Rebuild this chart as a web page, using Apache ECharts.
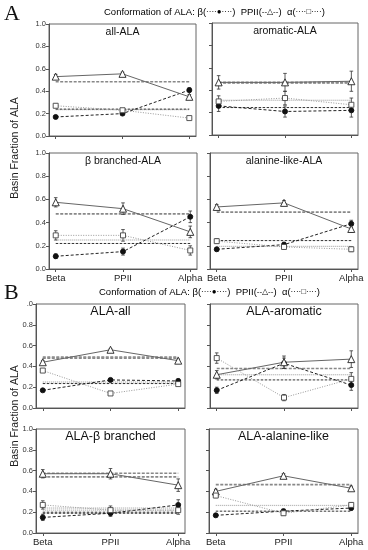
<!DOCTYPE html>
<html><head><meta charset="utf-8">
<script src="https://cdn.jsdelivr.net/npm/echarts@6/dist/echarts.min.js"></script>
<style>html,body{margin:0;padding:0;background:#fff}#c{width:368px;height:550px}</style>
</head><body><div id="c"></div>
<script>
// ---------- data ----------
const categories = ['Beta', 'PPII', 'Alpha'];
const yTickValues = [0, 0.2, 0.4, 0.6, 0.8, 1.0];
const panelTitles = ['all-ALA', 'aromatic-ALA', 'β branched-ALA', 'alanine-like-ALA',
                     'ALA-all', 'ALA-aromatic', 'ALA-β branched', 'ALA-alanine-like'];

// A: all-ALA
const A_all_beta = [0.17, 0.20, 0.41],  A_all_betaErr = [0.01, 0.01, 0.02];
const A_all_ppii = [0.53, 0.555, 0.35], A_all_ppiiErr = [0.02, 0.015, 0.02];
const A_all_alpha = [0.27, 0.23, 0.16], A_all_alphaErr = [0.015, 0.01, 0.01];
const A_all_ref = { beta: [0.24], ppii: [0.485], alpha: [0.235] };
// A: aromatic-ALA
const A_aro_beta = [0.26, 0.21, 0.22],  A_aro_betaErr = [0.05, 0.05, 0.06];
const A_aro_ppii = [0.47, 0.47, 0.48],  A_aro_ppiiErr = [0.06, 0.08, 0.09];
const A_aro_alpha = [0.30, 0.33, 0.27], A_aro_alphaErr = [0.05, 0.06, 0.06];
const A_aro_ref = { beta: [0.245], ppii: [0.465, 0.47], alpha: [0.31] };
// A: beta branched-ALA
const A_bb_beta = [0.11, 0.15, 0.45],   A_bb_betaErr = [0.02, 0.03, 0.05];
const A_bb_ppii = [0.575, 0.52, 0.32],  A_bb_ppiiErr = [0.04, 0.05, 0.05];
const A_bb_alpha = [0.29, 0.29, 0.16],  A_bb_alphaErr = [0.04, 0.05, 0.04];
const A_bb_ref = { beta: [0.22], ppii: [0.475], alpha: [0.25] };
// A: alanine-like-ALA
const A_al_beta = [0.17, 0.21, 0.39],   A_al_betaErr = [0.015, 0.02, 0.03];
const A_al_ppii = [0.535, 0.57, 0.345], A_al_ppiiErr = [0.02, 0.02, 0.03];
const A_al_alpha = [0.24, 0.19, 0.17],  A_al_alphaErr = [0.02, 0.02, 0.02];
const A_al_ref = { beta: [0.245], ppii: [0.49], alpha: [0.195] };
// B: ALA-all
const B_all_beta = [0.17, 0.27, 0.26],  B_all_betaErr = [0.01, 0.01, 0.02];
const B_all_ppii = [0.44, 0.56, 0.455], B_all_ppiiErr = [0.015, 0.01, 0.015];
const B_all_alpha = [0.36, 0.14, 0.23], B_all_alphaErr = [0.015, 0.01, 0.01];
const B_all_ref = { beta: [0.235], ppii: [0.48, 0.49], alpha: [0.25] };
// B: ALA-aromatic
const B_aro_beta = [0.17, 0.43, 0.22],  B_aro_betaErr = [0.03, 0.05, 0.05];
const B_aro_ppii = [0.32, 0.44, 0.47],  B_aro_ppiiErr = [0.04, 0.06, 0.08];
const B_aro_alpha = [0.48, 0.10, 0.28], B_aro_alphaErr = [0.05, 0.03, 0.06];
const B_aro_ref = { beta: [0.27], ppii: [0.38], alpha: [0.32] };
// B: ALA-beta branched
const B_bb_beta = [0.15, 0.19, 0.27],   B_bb_betaErr = [0.03, 0.03, 0.05];
const B_bb_ppii = [0.57, 0.57, 0.46],   B_bb_ppiiErr = [0.04, 0.05, 0.06];
const B_bb_alpha = [0.27, 0.22, 0.22],  B_bb_alphaErr = [0.04, 0.04, 0.04];
const B_bb_ref = { beta: [0.19, 0.20], ppii: [0.54, 0.575], alpha: [0.22, 0.24] };
// B: ALA-alanine-like
const B_al_beta = [0.17, 0.21, 0.24],   B_al_betaErr = [0.015, 0.02, 0.02];
const B_al_ppii = [0.40, 0.55, 0.43],   B_al_ppiiErr = [0.02, 0.02, 0.02];
const B_al_alpha = [0.36, 0.19, 0.27],  B_al_alphaErr = [0.02, 0.02, 0.02];
const B_al_ref = { beta: [0.21], ppii: [0.465], alpha: [0.265] };

const panels = [
  [A_all_beta, A_all_betaErr, A_all_ppii, A_all_ppiiErr, A_all_alpha, A_all_alphaErr, A_all_ref],
  [A_aro_beta, A_aro_betaErr, A_aro_ppii, A_aro_ppiiErr, A_aro_alpha, A_aro_alphaErr, A_aro_ref],
  [A_bb_beta, A_bb_betaErr, A_bb_ppii, A_bb_ppiiErr, A_bb_alpha, A_bb_alphaErr, A_bb_ref],
  [A_al_beta, A_al_betaErr, A_al_ppii, A_al_ppiiErr, A_al_alpha, A_al_alphaErr, A_al_ref],
  [B_all_beta, B_all_betaErr, B_all_ppii, B_all_ppiiErr, B_all_alpha, B_all_alphaErr, B_all_ref],
  [B_aro_beta, B_aro_betaErr, B_aro_ppii, B_aro_ppiiErr, B_aro_alpha, B_aro_alphaErr, B_aro_ref],
  [B_bb_beta, B_bb_betaErr, B_bb_ppii, B_bb_ppiiErr, B_bb_alpha, B_bb_alphaErr, B_bb_ref],
  [B_al_beta, B_al_betaErr, B_al_ppii, B_al_ppiiErr, B_al_alpha, B_al_alphaErr, B_al_ref]
];

// ---------- layout ----------
const grids = [
  { left: 49, top: 24, width: 147, height: 112 },
  { left: 212, top: 23, width: 146, height: 112 },
  { left: 49, top: 153, width: 148, height: 116 },
  { left: 210, top: 153, width: 148, height: 116 },
  { left: 36, top: 304, width: 149, height: 104 },
  { left: 210, top: 304, width: 148, height: 104 },
  { left: 36, top: 429, width: 149, height: 104 },
  { left: 209, top: 429, width: 149, height: 104 }
];
const FONT = 'Liberation Sans';
const styles = {
  beta:  { line: { color: '#222', width: 1, type: [3, 2] }, symbol: 'circle', size: 5, fill: '#111', border: '#111' },
  ppii:  { line: { color: '#666', width: 1, type: 'solid' }, symbol: 'triangle', size: 7, fill: '#fff', border: '#222' },
  alpha: { line: { color: '#999', width: 1, type: [1, 1.5] }, symbol: 'rect', size: 5, fill: '#fff', border: '#444' }
};
const refStyles = {
  beta:  { color: '#333', width: 1, type: [2.5, 1.5] },
  ppii:  { color: '#888', width: 1.6, type: [3, 1.5] },
  alpha: { color: '#aaa', width: 1.2, type: [1, 1] }
};

const xAxes = [], yAxes = [], series = [], graphics = [];
grids.forEach((g, i) => {
  const bottomRow = (i === 2 || i === 3 || i === 6 || i === 7);
  const leftCol = (i % 2 === 0);
  xAxes.push({
    type: 'value', gridIndex: i, min: -0.1, max: 2.1,
    splitLine: { show: false },
    axisLine: { show: true, onZero: false, lineStyle: { color: '#555', width: 1 } },
    axisTick: { show: true, customValues: [0, 1, 2], length: 3, inside: false, lineStyle: { color: '#555' } },
    axisLabel: { show: bottomRow, customValues: [0, 1, 2], formatter: v => categories[Math.round(v)],
                 fontFamily: FONT, fontSize: 9.5, color: '#222', margin: 4 }
  });
  yAxes.push({
    type: 'value', gridIndex: i, min: 0, max: 1, interval: 0.2,
    splitLine: { show: false },
    axisLine: { show: true, onZero: false, lineStyle: { color: '#555', width: 1 } },
    axisTick: { show: true, length: 3, lineStyle: { color: '#555' } },
    axisLabel: { show: leftCol, fontFamily: FONT, fontSize: 7.5, color: '#333', margin: 3,
                 formatter: v => (i === 4 && v === 1) ? '.0' : v.toFixed(1) }
  });
  const p = panels[i];
  const kinds = [['beta', p[0], p[1]], ['ppii', p[2], p[3]], ['alpha', p[4], p[5]]];
  // reference lines
  ['alpha', 'beta', 'ppii'].forEach(k => {
    p[6][k].forEach(v => {
      series.push({
        type: 'line', xAxisIndex: i, yAxisIndex: i, symbol: 'none', silent: true, z: 1,
        data: [[0, v], [2, v]], lineStyle: refStyles[k]
      });
    });
  });
  kinds.forEach(([k, vals, errs]) => {
    const s = styles[k];
    series.push({
      type: 'line', xAxisIndex: i, yAxisIndex: i, z: 3,
      data: vals.map((v, j) => [j, v]),
      lineStyle: s.line, symbol: s.symbol, symbolSize: s.size,
      itemStyle: { color: s.fill, borderColor: s.border, borderWidth: 0.9 }
    });
    series.push({
      type: 'custom', xAxisIndex: i, yAxisIndex: i, z: 2,
      data: vals.map((v, j) => [j, v - errs[j], v + errs[j]]),
      renderItem: (params, api) => {
        const x = api.value(0);
        const lo = api.coord([x, api.value(1)]);
        const hi = api.coord([x, api.value(2)]);
        const w = 1.8;
        return {
          type: 'group', children: [
            { type: 'line', shape: { x1: hi[0], y1: hi[1], x2: lo[0], y2: lo[1] }, style: { stroke: '#333', lineWidth: 0.8 } },
            { type: 'line', shape: { x1: hi[0] - w, y1: hi[1], x2: hi[0] + w, y2: hi[1] }, style: { stroke: '#333', lineWidth: 0.8 } },
            { type: 'line', shape: { x1: lo[0] - w, y1: lo[1], x2: lo[0] + w, y2: lo[1] }, style: { stroke: '#333', lineWidth: 0.8 } }
          ]
        };
      }
    });
  });
  graphics.push({
    type: 'text', x: g.left + g.width / 2, y: g.top + (i < 4 ? 3 : 1),
    style: { text: panelTitles[i], fontFamily: FONT, fontSize: i < 4 ? 10.5 : 12.5, fill: '#111', textAlign: 'center', textVerticalAlign: 'top' }
  });
});

// legends, big letters, y titles
const legendRich = {
  t: { fontFamily: FONT, fontSize: 9.5, color: '#222' },
  d: { fontFamily: FONT, fontSize: 8, color: '#777' },
  c: { fontFamily: FONT, fontSize: 8, color: '#111' }
};
const legendText = '{t|Conformation of ALA: β(}{d|····}{c|●}{d|····}{t|)  PPII(}{d|--}{c|△}{d|--}{t|)  α(}{d|····}{c|□}{d|····}{t|)}';
graphics.push({ type: 'text', x: 104, y: 7, style: { text: legendText, rich: legendRich } });
graphics.push({ type: 'text', x: 99, y: 287, style: { text: legendText, rich: legendRich } });
graphics.push({ type: 'text', x: 4, y: 3, style: { text: 'A', fontFamily: 'Liberation Serif', fontSize: 22, fill: '#111' } });
graphics.push({ type: 'text', x: 4, y: 282, style: { text: 'B', fontFamily: 'Liberation Serif', fontSize: 22, fill: '#111' } });
graphics.push({ type: 'text', x: 15, y: 148, rotation: Math.PI / 2,
  style: { text: 'Basin Fraction of ALA', fontFamily: FONT, fontSize: 10.5, fill: '#222', textAlign: 'center', textVerticalAlign: 'middle' } });
graphics.push({ type: 'text', x: 15, y: 416, rotation: Math.PI / 2,
  style: { text: 'Basin Fraction of ALA', fontFamily: FONT, fontSize: 10.5, fill: '#222', textAlign: 'center', textVerticalAlign: 'middle' } });

const chart = echarts.init(document.getElementById('c'), null, { renderer: 'canvas' });
chart.setOption({
  animation: false,
  backgroundColor: '#fff',
  grid: grids.map(g => Object.assign({ show: true, borderColor: '#666', borderWidth: 1, backgroundColor: 'transparent' }, g)),
  xAxis: xAxes,
  yAxis: yAxes,
  series: series,
  graphic: graphics
});
</script>
</body></html>
